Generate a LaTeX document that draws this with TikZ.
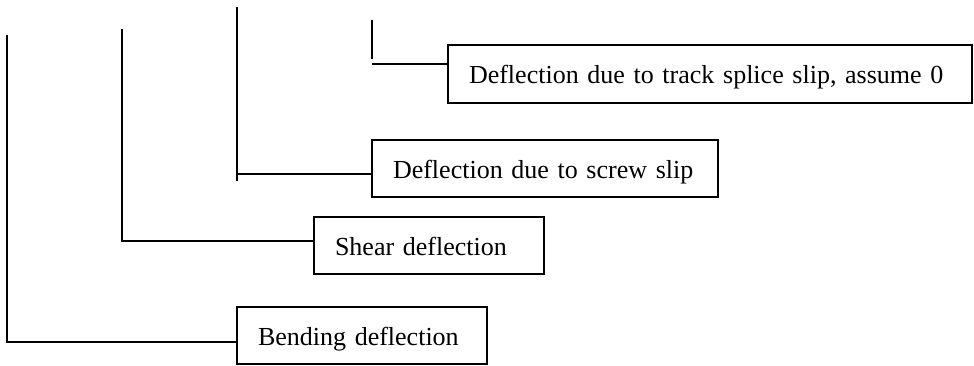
\documentclass[tikz,border=0pt]{standalone}
\usepackage{fontspec}
\setmainfont{Liberation Serif}
\begin{document}
\begin{tikzpicture}[x=1pt,y=-1pt,
  lbl/.style={draw,line width=1.3pt,rectangle,inner xsep=21pt,inner ysep=0pt,
    text height=25pt,text depth=6pt,
    align=left,font=\fontsize{26}{30}\selectfont,anchor=center},
  wire/.style={line width=1.3pt}]
\useasboundingbox (0,0) rectangle (974,365);
\node[lbl,minimum height=58pt,text width=482pt] (track) at (710,74) {Deflection due to track splice slip, assume 0};
\node[lbl,minimum height=57pt,text width=304pt] (screw) at (545,168.5) {Deflection due to screw slip};
\node[lbl,minimum height=57pt,text width=188pt] (shear) at (429,245.5) {Shear deflection};
\node[lbl,minimum height=57pt,text width=208pt] (bend) at (362,335.5) {Bending deflection};
% connectors
\coordinate (t1) at (7,35);   \coordinate (c1) at (7,342);
\coordinate (t2) at (122,29); \coordinate (c2) at (122,241);
\coordinate (t3) at (237,7);  \coordinate (b3) at (237,181); \coordinate (c3) at (237,174);
\coordinate (t4) at (372,20); \coordinate (b4) at (372,59);  \coordinate (c4) at (372,64);
\draw[wire] (t1) -- (c1) -- (c1 -| bend.west);
\draw[wire] (t2) -- (c2) -- (c2 -| shear.west);
\draw[wire] (t3) -- (b3);
\draw[wire] (c3) -- (c3 -| screw.west);
\draw[wire] (t4) -- (b4);
\draw[wire] (c4) -- (c4 -| track.west);
\end{tikzpicture}
\end{document}
